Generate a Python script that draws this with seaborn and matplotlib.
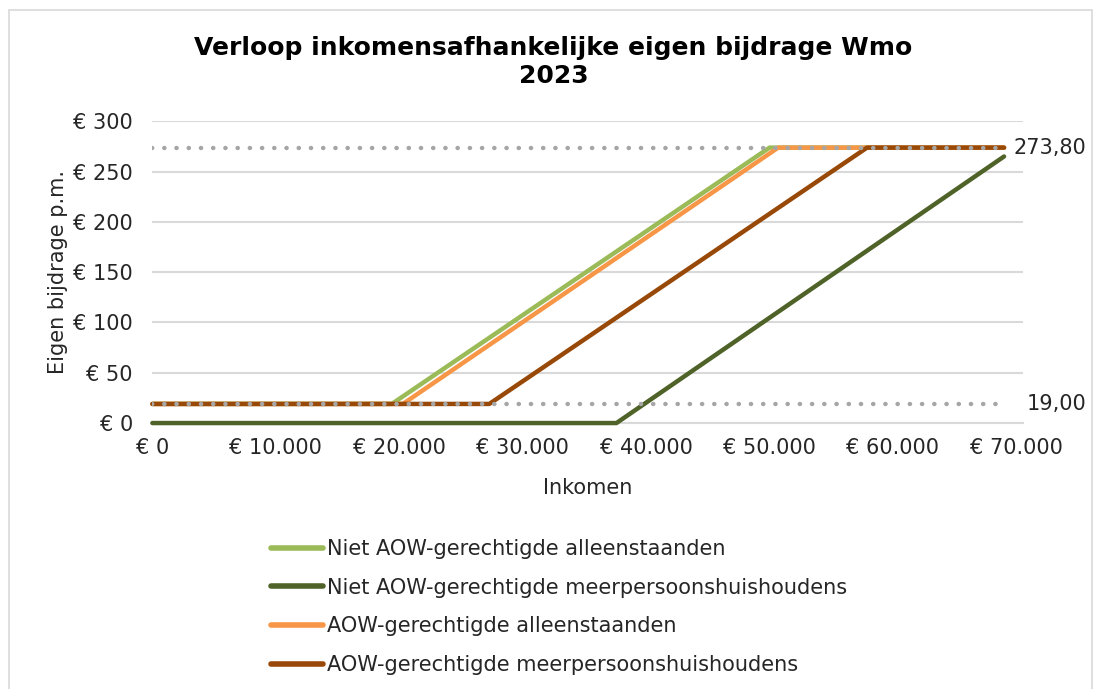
import matplotlib
matplotlib.use("Agg")
import matplotlib.pyplot as plt
import matplotlib.ticker as mticker
from matplotlib.lines import Line2D
import seaborn as sns
import pandas as pd

# breakpoints (income in euro, contribution per month)
series_names = [
    "Niet AOW-gerechtigde alleenstaanden",
    "Niet AOW-gerechtigde meerpersoonshuishoudens",
    "AOW-gerechtigde alleenstaanden",
    "AOW-gerechtigde meerpersoonshuishoudens",
]
niet_aow_alleen_x = [0, 19400, 50000, 69000]
niet_aow_alleen_y = [19.0, 19.0, 273.8, 273.8]
niet_aow_meer_x = [0, 37600, 69000]
niet_aow_meer_y = [0.0, 0.0, 265.0]
aow_alleen_x = [0, 20300, 50700, 69000]
aow_alleen_y = [19.0, 19.0, 273.8, 273.8]
aow_meer_x = [0, 27300, 57900, 69000]
aow_meer_y = [19.0, 19.0, 273.8, 273.8]

max_bijdrage = 273.80
min_bijdrage = 19.00
ref_x = [0, 69000]

colors = ["#9BBB59", "#4F6228", "#F79646", "#984807"]

rows = []
for name, xs, ys in zip(series_names,
                        [niet_aow_alleen_x, niet_aow_meer_x, aow_alleen_x, aow_meer_x],
                        [niet_aow_alleen_y, niet_aow_meer_y, aow_alleen_y, aow_meer_y]):
    for x, y in zip(xs, ys):
        rows.append({"inkomen": x, "bijdrage": y, "groep": name})
df = pd.DataFrame(rows)

sns.set_style("white")
plt.rcParams["font.family"] = ["DejaVu Sans"]
FS = 15

fig = plt.figure(figsize=(10.96, 6.89), dpi=100)
ax = fig.add_axes([0.139, 0.386, 0.794, 0.438])

sns.lineplot(data=df, x="inkomen", y="bijdrage", hue="groep",
             hue_order=series_names, palette=colors, linewidth=3.2,
             legend=False, ax=ax, sort=True, estimator=None)
for ln in ax.lines:
    ln.set_clip_on(False)
    ln.set_zorder(3)

# dotted reference lines for min / max contribution, on top of the series
for val, offs in [(max_bijdrage, 7), (min_bijdrage, 16)]:
    ax.plot(ref_x, [val, val], color="#A6A6A6", linewidth=3.2,
            linestyle=(0, (0.05, 2.7)), dash_capstyle="round", zorder=5)
    ax.annotate(f"{val:.2f}".replace(".", ","), xy=(ref_x[-1], val),
                xytext=(offs, 0), textcoords="offset points", va="center",
                ha="left", fontsize=FS, color="#262626", annotation_clip=False)

ax.set_xlim(0, 70500)
ax.set_ylim(0, 300)
ax.set_xticks(range(0, 70001, 10000))
ax.set_yticks(range(0, 301, 50))
ax.xaxis.set_major_formatter(mticker.FuncFormatter(lambda v, p: "€ " + f"{v:,.0f}".replace(",", ".")))
ax.yaxis.set_major_formatter(mticker.FuncFormatter(lambda v, p: f"€ {v:.0f}"))
ax.yaxis.grid(True, color="#D9D9D9", linewidth=1.5)
ax.set_axisbelow(True)
for s in ["top", "right", "left"]:
    ax.spines[s].set_visible(False)
ax.spines["bottom"].set_color("#D9D9D9")
ax.spines["bottom"].set_linewidth(1.5)
ax.tick_params(axis="x", direction="out", length=7, width=1.5, color="#D9D9D9",
               labelsize=FS, labelcolor="#262626", pad=4)
ax.tick_params(axis="y", length=0, labelsize=FS, labelcolor="#262626", pad=14)

ax.set_xlabel("Inkomen", fontsize=FS, color="#262626", labelpad=14)
ax.set_ylabel("Eigen bijdrage p.m.", fontsize=FS, color="#262626", labelpad=4)

fig.suptitle("Verloop inkomensafhankelijke eigen bijdrage Wmo\n2023",
             x=0.505, y=0.948, fontsize=18, fontweight="bold", color="#000000",
             linespacing=1.2)

handles = [Line2D([0], [0], color=c, linewidth=4, solid_capstyle="round") for c in colors]
fig.legend(handles, series_names, loc="upper left", bbox_to_anchor=(0.23, 0.245),
           frameon=False, fontsize=FS, handlelength=2.5, handletextpad=0.2,
           labelspacing=0.9, labelcolor="#262626")

# light grey frame around the chart
fig.patches.append(plt.Rectangle((0.008, -0.01), 0.988, 0.995, transform=fig.transFigure,
                                 fill=False, edgecolor="#D9D9D9", linewidth=1.2))

fig.savefig("out.png", dpi=100)
